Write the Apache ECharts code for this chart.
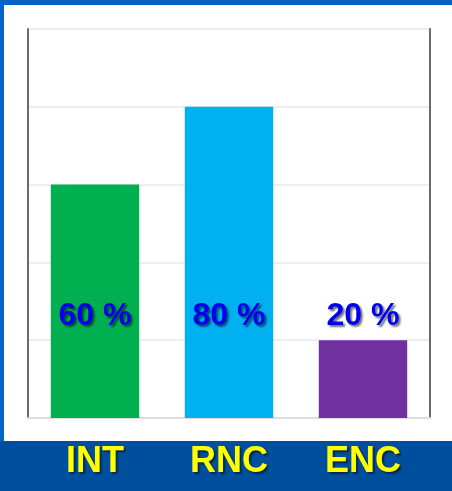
<!DOCTYPE html>
<html>
<head>
<meta charset="utf-8">
<style>
  html, body { margin: 0; padding: 0; background: #ffffff; }
  #main { width: 452px; height: 491px; }
</style>
<script src="https://cdn.jsdelivr.net/npm/echarts@6/dist/echarts.min.js"></script>
</head>
<body>
<div id="main"></div>
<script>
const categories = ['INT', 'RNC', 'ENC'];
const values = [60, 80, 20];
const barColors = ['#00b050', '#00b0f0', '#7030a0'];
const yTicks = [0, 20, 40, 60, 80, 100];

const font = '"Liberation Sans", Arial, sans-serif';

let chart = echarts.init(document.getElementById('main'), null, { renderer: 'canvas' });

let option = {
  backgroundColor: '#0563c6',
  animation: false,
  graphic: [
    // white panel
    { type: 'rect', z: -10, shape: { x: 4, y: 5, width: 448, height: 436 }, style: { fill: '#ffffff' } },
    // dark band for category names
    { type: 'rect', z: -10, shape: { x: 0, y: 441, width: 452, height: 50 }, style: { fill: '#004f9f' } }
  ],
  grid: { left: 28, right: 22, top: 29, bottom: 73 },
  xAxis: {
    type: 'category',
    data: categories,
    axisLine: { lineStyle: { color: '#dedede', width: 2 } },
    axisTick: { show: false },
    axisLabel: {
      color: '#ffff00',
      fontFamily: font,
      fontWeight: 'bold',
      fontSize: 36,
      margin: 26,
      textShadowColor: 'rgba(0,0,0,0.5)',
      textShadowOffsetX: 2,
      textShadowOffsetY: 2,
      textShadowBlur: 2
    }
  },
  yAxis: [{
    type: 'value',
    min: yTicks[0],
    max: yTicks[yTicks.length - 1],
    interval: 20,
    axisLine: { show: true, lineStyle: { color: '#6a6a6a', width: 2 } },
    axisTick: { show: false },
    axisLabel: { show: false },
    splitLine: { lineStyle: { color: '#eeeeee', width: 2 } }
  }, {
    type: 'value',
    min: yTicks[0],
    max: yTicks[yTicks.length - 1],
    interval: 20,
    position: 'right',
    axisLine: { show: true, lineStyle: { color: '#6a6a6a', width: 2 } },
    axisTick: { show: false },
    axisLabel: { show: false },
    splitLine: { show: false }
  }],
  series: [{
    type: 'bar',
    barWidth: '66%',
    data: values.map((v, i) => ({ value: v, itemStyle: { color: barColors[i] } })),
    label: {
      show: true,
      position: 'insideBottom',
      distance: 86,
      formatter: '{c} %',
      color: '#0000f0',
      fontFamily: font,
      fontWeight: 'bold',
      fontSize: 32,
      textShadowColor: 'rgba(0,0,0,0.55)',
      textShadowOffsetX: 2,
      textShadowOffsetY: 2,
      textShadowBlur: 2
    }
  }]
};

chart.setOption(option);
</script>
</body>
</html>
